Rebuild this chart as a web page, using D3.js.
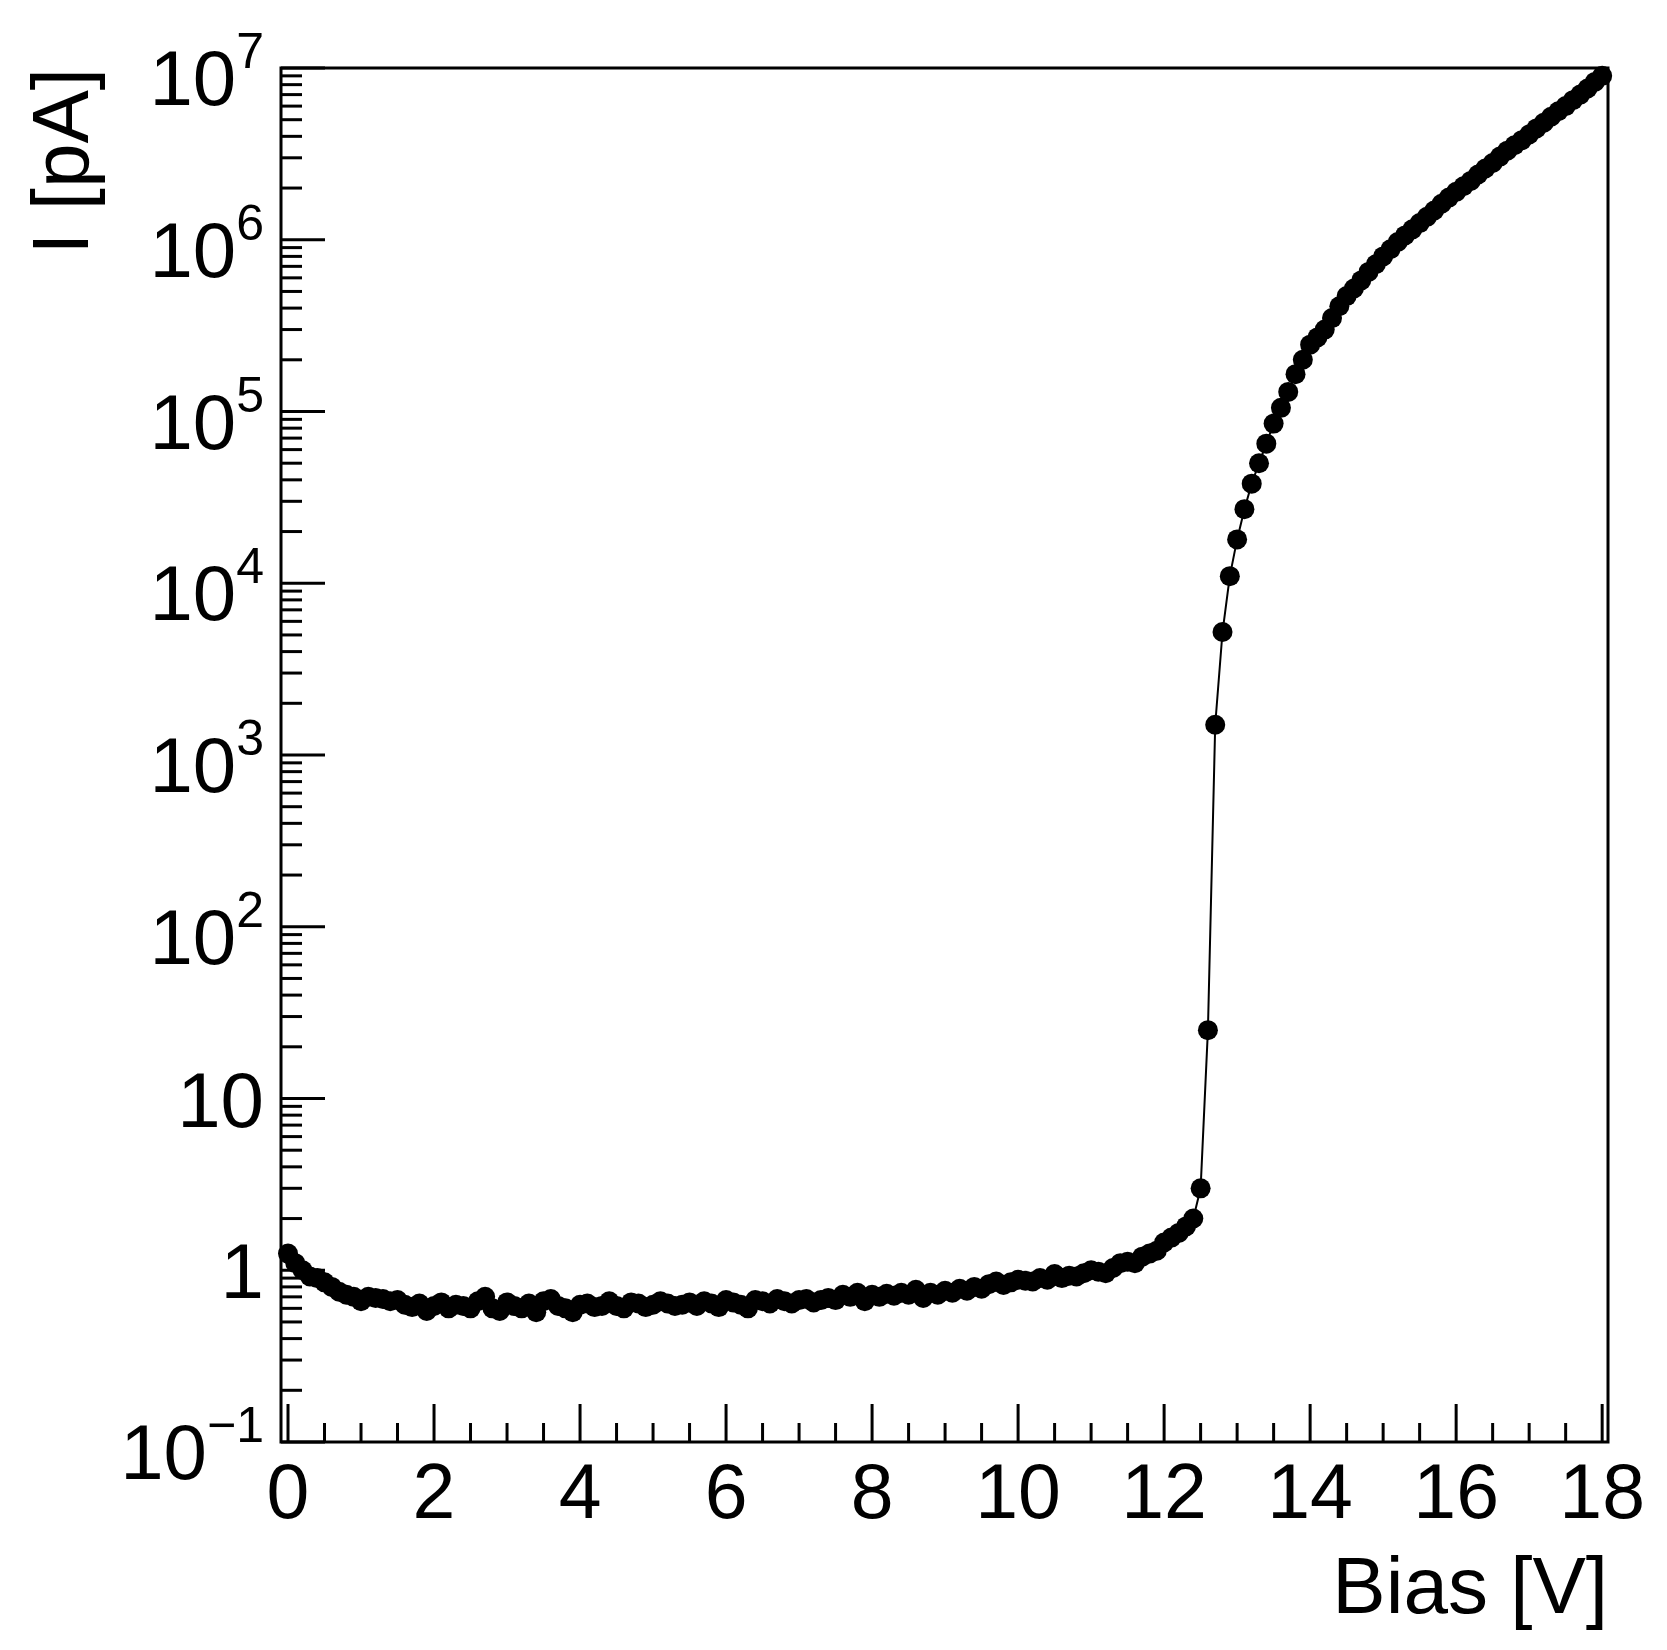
<!DOCTYPE html>
<html>
<head>
<meta charset="utf-8">
<script src="https://cdn.jsdelivr.net/npm/d3@7"></script>
<style>
  body { margin: 0; background: #fff; }
  text { font-family: "Liberation Sans", Arial, sans-serif; fill: #000; }
</style>
</head>
<body>
<svg id="chart" width="1667" height="1650"></svg>
<script>
// bias sweep, 0 to 18 V in 0.1 V steps
const biasStep = 0.1;
// measured current in pA, one value per step
const current = [
  1.25, 1.1, 1.0, 0.92, 0.9, 0.85, 0.8, 0.75, 0.72, 0.7,
  0.66, 0.7, 0.69, 0.68, 0.66, 0.67, 0.63, 0.61, 0.64, 0.58,
  0.62, 0.65, 0.6, 0.63, 0.62, 0.6, 0.66, 0.7, 0.6, 0.58,
  0.65, 0.62, 0.6, 0.64, 0.57, 0.66, 0.68, 0.62, 0.6, 0.57,
  0.63, 0.64, 0.61, 0.62, 0.66, 0.62, 0.6, 0.65, 0.64, 0.61,
  0.63, 0.66, 0.64, 0.62, 0.63, 0.65, 0.62, 0.66, 0.64, 0.61,
  0.67, 0.65, 0.63, 0.6, 0.67, 0.66, 0.64, 0.68, 0.66, 0.64,
  0.67, 0.68, 0.65, 0.67, 0.69, 0.67, 0.72, 0.7, 0.74, 0.66,
  0.72, 0.7, 0.73, 0.71, 0.74, 0.72, 0.77, 0.69, 0.74, 0.72,
  0.76, 0.74, 0.78, 0.76, 0.8, 0.78, 0.83, 0.86, 0.82, 0.85,
  0.88, 0.87, 0.86, 0.9, 0.88, 0.95, 0.9, 0.93, 0.92, 0.96,
  1.0, 0.98, 0.96, 1.03, 1.1, 1.12, 1.1, 1.2, 1.25, 1.3,
  1.45, 1.55, 1.65, 1.8, 2.0, 3.0, 25, 1500, 5200, 11000,
  18000, 27000, 38000, 50000, 65000, 85000, 105000, 130000, 165000, 200000,
  245000, 270000, 300000, 350000, 410000, 470000, 520000, 580000, 650000, 720000,
  800000, 880000, 970000, 1.06e6, 1.15e6, 1.25e6, 1.36e6, 1.48e6, 1.62e6, 1.76e6,
  1.9e6, 2.05e6, 2.2e6, 2.4e6, 2.6e6, 2.8e6, 3.05e6, 3.3e6, 3.55e6, 3.8e6,
  4.1e6, 4.45e6, 4.8e6, 5.2e6, 5.6e6, 6.0e6, 6.5e6, 7.0e6, 7.6e6, 8.3e6,
  9.0e6
];
const xTicks = [0, 2, 4, 6, 8, 10, 12, 14, 16, 18];
const yDecades = [-1, 0, 1, 2, 3, 4, 5, 6, 7];

const points = current.map((c, i) => ({ v: +(i * biasStep).toFixed(1), c }));

const svg = d3.select("#chart");
const L = 281, R = 1608, T = 68, B = 1442;

const x = d3.scaleLinear().domain([-0.096, 18.08]).range([L, R]);
const y = d3.scaleLog().domain([0.1, 1e7]).range([B, T]);

// frame
svg.append("rect").attr("x", L).attr("y", T).attr("width", R - L).attr("height", B - T)
  .attr("fill", "none").attr("stroke", "#000").attr("stroke-width", 3);

// x ticks: major every 2, minor every 0.5
const xt = svg.append("g");
for (let v = 0; v <= 18.001; v += 0.5) {
  const major = Math.abs(v % 2) < 1e-6;
  xt.append("line").attr("x1", x(v)).attr("x2", x(v))
    .attr("y1", B).attr("y2", B - (major ? 38 : 19))
    .attr("stroke", "#000").attr("stroke-width", 3);
}
xt.selectAll("text").data(xTicks).enter().append("text")
  .attr("x", d => x(d)).attr("y", 1518)
  .attr("text-anchor", "middle").attr("font-size", 77)
  .text(d => d);

// y ticks: decades and 2..9 minors
const yt = svg.append("g");
yDecades.forEach(e => {
  for (let m = 1; m <= 9; m++) {
    const val = m * Math.pow(10, e);
    if (val > 1e7) break;
    yt.append("line").attr("x1", L).attr("x2", L + (m === 1 ? 44 : 21))
      .attr("y1", y(val)).attr("y2", y(val))
      .attr("stroke", "#000").attr("stroke-width", 3);
  }
});
yDecades.forEach(e => {
  const plain = e === 0 || e === 1;
  const t = yt.append("text").attr("x", 264)
    .attr("y", y(Math.pow(10, e)) + (plain ? 28 : 37))
    .attr("text-anchor", "end").attr("font-size", 78);
  if (e === 0) t.text("1");
  else if (e === 1) t.text("10");
  else {
    t.append("tspan").text("10");
    t.append("tspan").attr("dy", -37).attr("font-size", 50)
      .text(e < 0 ? "\u22121" : e);
  }
});

// axis titles
svg.append("text").attr("x", R).attr("y", 1613).attr("text-anchor", "end")
  .attr("font-size", 80).text("Bias [V]");
svg.append("text").attr("transform", `translate(88,${T}) rotate(-90)`)
  .attr("text-anchor", "end").attr("font-size", 80).text("I [pA]");

// data line and markers
svg.append("path").datum(points)
  .attr("d", d3.line().x(d => x(d.v)).y(d => y(d.c)))
  .attr("fill", "none").attr("stroke", "#000").attr("stroke-width", 2);
svg.append("g").selectAll("circle").data(points).enter().append("circle")
  .attr("cx", d => x(d.v)).attr("cy", d => y(d.c)).attr("r", 10).attr("fill", "#000");
</script>
</body>
</html>
